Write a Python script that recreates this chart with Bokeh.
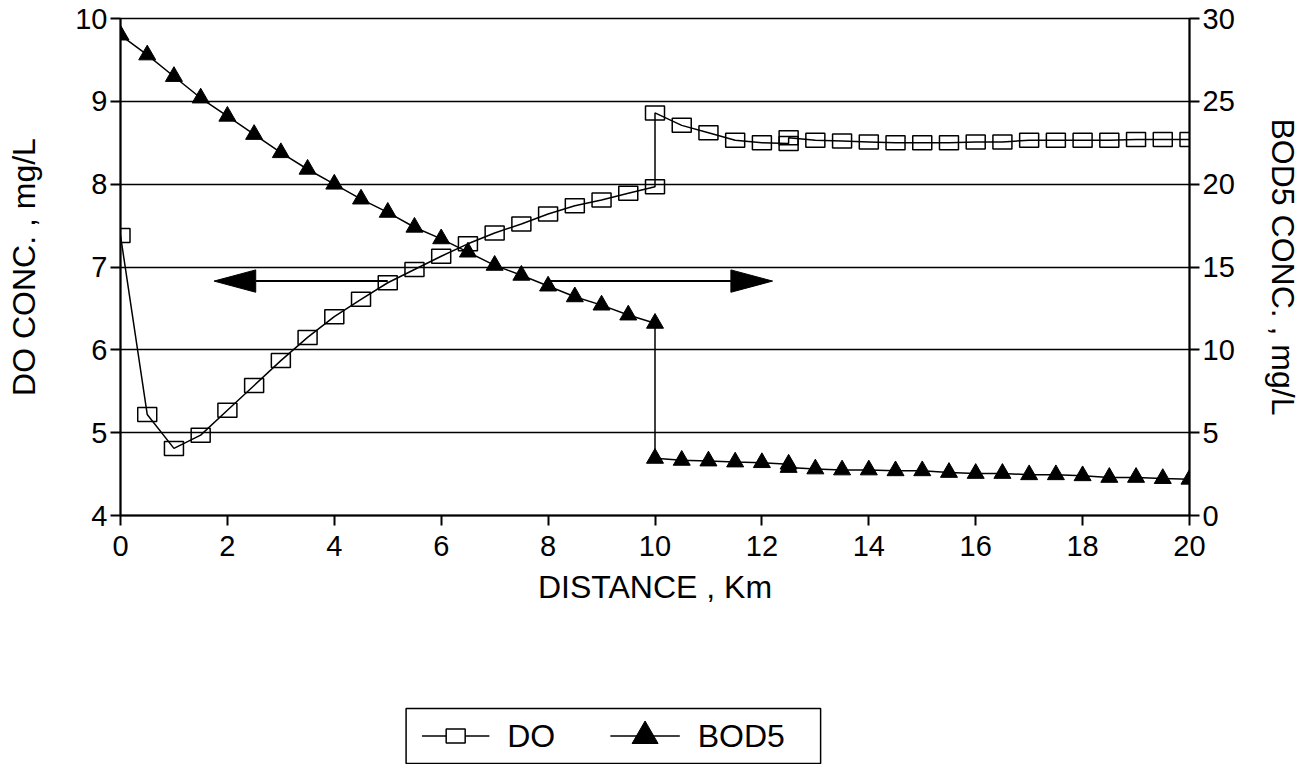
from bokeh.plotting import figure
from bokeh.models import Range1d, LinearAxis, FixedTicker
from bokeh.layouts import column
from bokeh.core.properties import value
from bokeh.embed import file_html
from bokeh.resources import INLINE

FONT = "Liberation Sans"

# ---- data ----
distance_km = [0, 0.5, 1, 1.5, 2, 2.5, 3, 3.5, 4, 4.5, 5, 5.5, 6, 6.5, 7, 7.5, 8, 8.5, 9, 9.5,
               10, 10, 10.5, 11, 11.5, 12, 12.5, 12.5, 13, 13.5, 14, 14.5, 15, 15.5, 16, 16.5,
               17, 17.5, 18, 18.5, 19, 19.5, 20]
do_conc = [7.38, 5.22, 4.81, 4.97, 5.27, 5.57, 5.87, 6.15, 6.40, 6.61, 6.81, 6.97, 7.13, 7.28,
           7.41, 7.52, 7.64, 7.74, 7.81, 7.89, 7.97, 8.86, 8.71, 8.62, 8.53, 8.50, 8.49, 8.56,
           8.53, 8.52, 8.51, 8.50, 8.50, 8.50, 8.51, 8.51, 8.53, 8.53, 8.53, 8.53, 8.54, 8.54, 8.54]
bod5_conc = [29.0, 27.8, 26.5, 25.2, 24.1, 23.0, 21.9, 20.9, 20.0, 19.1, 18.3, 17.4, 16.7, 15.9,
             15.1, 14.5, 13.85, 13.2, 12.7, 12.1, 11.6, 3.45, 3.33, 3.29, 3.23, 3.19, 3.1, 2.9,
             2.81, 2.75, 2.75, 2.7, 2.7, 2.6, 2.54, 2.54, 2.46, 2.46, 2.4, 2.3, 2.3, 2.23, 2.19]

x_ticks = [0, 2, 4, 6, 8, 10, 12, 14, 16, 18, 20]
do_ticks = [4, 5, 6, 7, 8, 9, 10]
bod_ticks = [0, 5, 10, 15, 20, 25, 30]
legend_labels = ["DO", "BOD5"]

# axis-direction arrows (annotation): level on DO axis, tail -> tip in km
arrow_level = 6.83
left_arrow_x = [5.0, 1.75]
right_arrow_x = [8.0, 12.2]
head_len_km = 0.78
head_half_do = 0.135

W, H1, H2 = 1303, 640, 124
FL, FR, FT, FB = 120, 1198, 18, 515   # frame edges in canvas pixels
p = figure(width=W, height=H1, x_range=Range1d(0, 20), y_range=Range1d(4, 10),
           output_backend="svg", toolbar_location=None,
           min_border_left=FL, min_border_right=W - FR,
           min_border_top=FT, min_border_bottom=H1 - FB)
p.extra_y_ranges = {"bod": Range1d(0, 30)}
p.background_fill_color = "white"
p.border_fill_color = "white"
p.outline_line_color = "black"
p.outline_line_width = 1.5

p.xgrid.visible = False
p.ygrid.ticker = FixedTicker(ticks=do_ticks)
p.ygrid.grid_line_color = "black"
p.ygrid.grid_line_width = 1.5
p.ygrid.grid_line_alpha = 1.0


def style_axis(ax, label_standoff, axis_label_standoff):
    ax.axis_line_color = "black"
    ax.axis_line_width = 2
    ax.major_tick_line_color = "black"
    ax.major_tick_line_width = 2
    ax.major_tick_in = 0
    ax.major_tick_out = 10
    ax.minor_tick_line_color = None
    ax.major_label_text_font = FONT
    ax.major_label_text_font_size = "29px"
    ax.major_label_text_color = "black"
    ax.major_label_standoff = label_standoff
    ax.axis_label_text_font = FONT
    ax.axis_label_text_font_size = "32px"
    ax.axis_label_text_font_style = "normal"
    ax.axis_label_text_color = "black"
    ax.axis_label_standoff = axis_label_standoff


xa = p.xaxis[0]
xa.ticker = FixedTicker(ticks=x_ticks)
xa.axis_label = "DISTANCE , Km"
style_axis(xa, 10, 10)

ya = p.yaxis[0]
ya.ticker = FixedTicker(ticks=do_ticks)
ya.axis_label = "DO CONC. , mg/L"
style_axis(ya, 3, 30)
ya.major_label_orientation = "horizontal"

yr = LinearAxis(y_range_name="bod", ticker=FixedTicker(ticks=bod_ticks),
                axis_label="BOD5 CONC. , mg/L")
style_axis(yr, 3, 27)
yr.major_label_orientation = "horizontal"
p.add_layout(yr, "right")

# ---- series ----
p.line(distance_km, do_conc, line_color="black", line_width=1.5)
p.rect(distance_km, do_conc, width=19, height=14, width_units="screen", height_units="screen",
       fill_alpha=0, line_color="black", line_width=1.5)

p.line(distance_km, bod5_conc, line_color="black", line_width=1.5, y_range_name="bod")
p.scatter(distance_km, bod5_conc, marker="triangle", size=17, fill_color="black",
          line_color="black", y_range_name="bod")

# ---- arrows ----
for (tail, tip) in (left_arrow_x, right_arrow_x):
    direction = 1 if tip > tail else -1
    base = tip - direction * head_len_km
    p.line([tail, base], [arrow_level, arrow_level], line_color="black", line_width=2)
    p.patch([tip, base, base], [arrow_level, arrow_level + head_half_do, arrow_level - head_half_do],
            fill_color="black", line_color="black", line_width=1)

# ---- legend strip (separate canvas; its frame is aligned with the chart frame,
#      so x is given in page pixels FL..FR and y in pixels downwards) ----
lg = figure(width=W, height=H2, x_range=Range1d(FL, FR), y_range=Range1d(H2, 0),
            output_backend="svg", toolbar_location=None, x_axis_type=None, y_axis_type=None,
            min_border=0, min_border_left=0, min_border_right=0, min_border_top=0,
            min_border_bottom=0)
lg.outline_line_color = None
lg.background_fill_color = "white"
lg.border_fill_color = "white"
lg.grid.visible = False

box_l, box_r, box_t, box_b = 408, 826, 68, 123
row_y = (box_t + box_b) / 2
lg.quad(left=[box_l], right=[box_r], top=[box_t], bottom=[box_b],
        fill_color="white", line_color="black", line_width=1.5)
# DO entry
lg.line([424, 492], [row_y, row_y], line_color="black", line_width=1.5)
lg.rect([458], [row_y], width=19, height=14, width_units="screen", height_units="screen",
        fill_color="white", line_color="black", line_width=1.5)
# BOD5 entry
lg.line([614, 684], [row_y, row_y], line_color="black", line_width=1.5)
lg.scatter([649], [row_y], marker="triangle", size=26, fill_color="black", line_color="black")
lg.text(x=[510, 702], y=[row_y, row_y], text=legend_labels, text_font=value(FONT),
        text_font_size="32px", text_baseline="middle", text_align="left", text_color="black")

layout = column(p, lg, spacing=0)
open("out.html", "w").write(file_html(layout, INLINE))
